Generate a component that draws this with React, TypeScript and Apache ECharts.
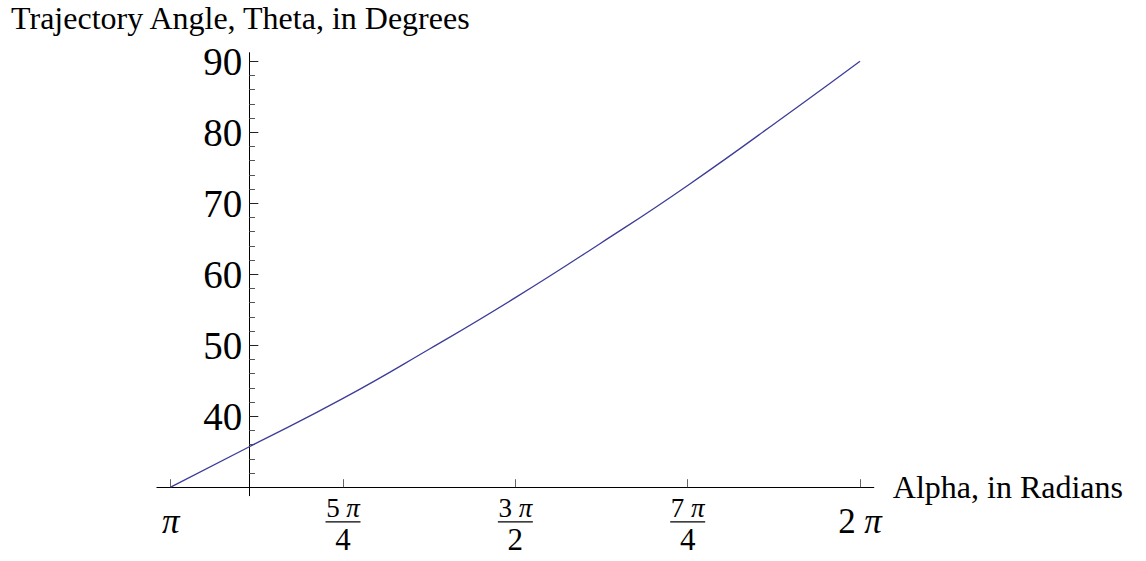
import React, { useEffect, useRef } from "react";
import * as echarts from "echarts";

const PI = Math.PI;

// Curve samples: trajectory angle (degrees) against alpha (radians)
const alphaValues = [PI, 3.5, (5 * PI) / 4, 4.323, (3 * PI) / 2, 5.098, (7 * PI) / 4, 6.0, 2 * PI];
const thetaValues = [30, 35.7, 42.5, 49.5, 56.7, 64.3, 72.5, 83.6, 90];

// x-axis ticks in multiples of pi
const xTickValues = [PI, (5 * PI) / 4, (3 * PI) / 2, (7 * PI) / 4, 2 * PI];
const xTickNumerators = ["", "5", "3", "7", "2"];
const xTickDenominators = ["", "4", "2", "4", ""];

// y-axis ticks
const yLabelValues = [40, 50, 60, 70, 80, 90];
const yMinorValues = [32, 34, 36, 38, 42, 44, 46, 48, 52, 54, 56, 58, 62, 64, 66, 68, 72, 74, 76, 78, 82, 84, 86, 88];

const X_NAME = "Alpha, in Radians";
const Y_NAME = "Trajectory Angle, Theta, in Degrees";

const FONT = "'Liberation Serif', 'Times New Roman', Times, serif";

const X_MIN = PI - 0.0628;
const X_MAX = 2 * PI + 0.0628;
const Y_MIN = 28.8;
const Y_MAX = 91.2;
const Y_AXIS_AT = 3.5; // alpha where the vertical axis crosses
const X_AXIS_AT = 30; // theta where the horizontal axis crosses

const GRID = { left: 156.9, top: 52.7, width: 716.9, height: 443.0 };

function nearestIndex(arr: number[], v: number) {
  let best = 0;
  for (let i = 1; i < arr.length; i++) {
    if (Math.abs(arr[i] - v) < Math.abs(arr[best] - v)) best = i;
  }
  return best;
}

export default function App() {
  const ref = useRef<HTMLDivElement>(null);

  useEffect(() => {
    if (!ref.current) return;
    const chart = echarts.init(ref.current, undefined, { renderer: "svg" });

    const yAxisOffset = -((Y_AXIS_AT - X_MIN) / (X_MAX - X_MIN)) * GRID.width;
    const xAxisOffset = -((X_AXIS_AT - Y_MIN) / (Y_MAX - Y_MIN)) * GRID.height;

    const option: any = {
      animation: false,
      backgroundColor: "#ffffff",
      grid: {
        left: GRID.left,
        top: GRID.top,
        width: GRID.width,
        height: GRID.height,
        containLabel: false,
        outerBoundsMode: "none",
      },
      xAxis: {
        type: "value",
        min: X_MIN,
        max: X_MAX,
        position: "bottom",
        offset: xAxisOffset,
        name: X_NAME,
        nameLocation: "end",
        nameGap: 19,
        nameMoveOverlap: false,
        nameTextStyle: {
          fontFamily: FONT,
          fontSize: 32,
          color: "#000",
          align: "left",
          verticalAlign: "middle",
          padding: [0, 0, 10, 0],
        },
        axisLine: { show: true, onZero: false, lineStyle: { color: "#000", width: 1 } },
        axisTick: {
          show: true,
          inside: true,
          length: 8,
          customValues: xTickValues,
          lineStyle: { color: "#666", width: 1 },
        },
        splitLine: { show: false },
        axisLabel: {
          show: true,
          margin: 9.7,
          customValues: xTickValues,
          color: "#000",
          fontFamily: FONT,
          formatter: (value: number) => {
            const i = nearestIndex(xTickValues, value);
            const num = xTickNumerators[i];
            const den = xTickDenominators[i];
            if (!den) {
              return num ? `{big|${num} }{bigPi|π}` : `{bigPi|π}`;
            }
            return `{num|${num} }{numPi|π}\n{bar| }\n{den|${den}}`;
          },
          rich: {
            big: { fontFamily: FONT, fontSize: 35, lineHeight: 50, color: "#000", align: "center" },
            bigPi: { fontFamily: FONT, fontSize: 35, lineHeight: 50, fontStyle: "italic", color: "#000", align: "center" },
            num: { fontFamily: FONT, fontSize: 27, lineHeight: 22, color: "#000", align: "center" },
            numPi: { fontFamily: FONT, fontSize: 27, lineHeight: 22, fontStyle: "italic", color: "#000", align: "center" },
            bar: { width: 35, height: 1.3, lineHeight: 6, fontSize: 2, backgroundColor: "#000", align: "center" },
            den: { fontFamily: FONT, fontSize: 31, lineHeight: 29, color: "#000", align: "center" },
          },
        },
      },
      yAxis: [
        {
          type: "value",
          min: Y_MIN,
          max: Y_MAX,
          position: "left",
          offset: yAxisOffset,
          name: Y_NAME,
          nameLocation: "end",
          nameGap: 20.5,
          nameMoveOverlap: false,
          nameTextStyle: {
            fontFamily: FONT,
            fontSize: 32,
            lineHeight: 28,
            color: "#000",
            padding: [0, 18, 0, 0],
          },
          axisLine: { show: true, onZero: false, lineStyle: { color: "#000", width: 1 } },
          axisTick: {
            show: true,
            inside: true,
            length: 9,
            customValues: yLabelValues,
            lineStyle: { color: "#222", width: 1 },
          },
          splitLine: { show: false },
          axisLabel: {
            show: true,
            margin: 7,
            customValues: yLabelValues,
            fontFamily: FONT,
            fontSize: 39,
            color: "#000",
          },
        },
        {
          type: "value",
          min: Y_MIN,
          max: Y_MAX,
          position: "left",
          offset: yAxisOffset,
          axisLine: { show: false, onZero: false },
          axisTick: {
            show: true,
            inside: true,
            length: 5.7,
            customValues: yMinorValues,
            lineStyle: { color: "#555", width: 1 },
          },
          axisLabel: { show: false },
          splitLine: { show: false },
        },
      ],
      series: [
        {
          type: "line",
          xAxisIndex: 0,
          yAxisIndex: 0,
          data: alphaValues.map((a, i) => [a, thetaValues[i]]),
          showSymbol: false,
          smooth: true,
          lineStyle: { color: "#3d3d99", width: 1.3 },
          emphasis: { disabled: true },
        },
      ],
    };

    chart.setOption(option);
    return () => {
      chart.dispose();
    };
  }, []);

  return (
    <div
      ref={ref}
      style={{ position: "absolute", left: 0, top: 0, width: 1146, height: 561, background: "#fff" }}
    />
  );
}
